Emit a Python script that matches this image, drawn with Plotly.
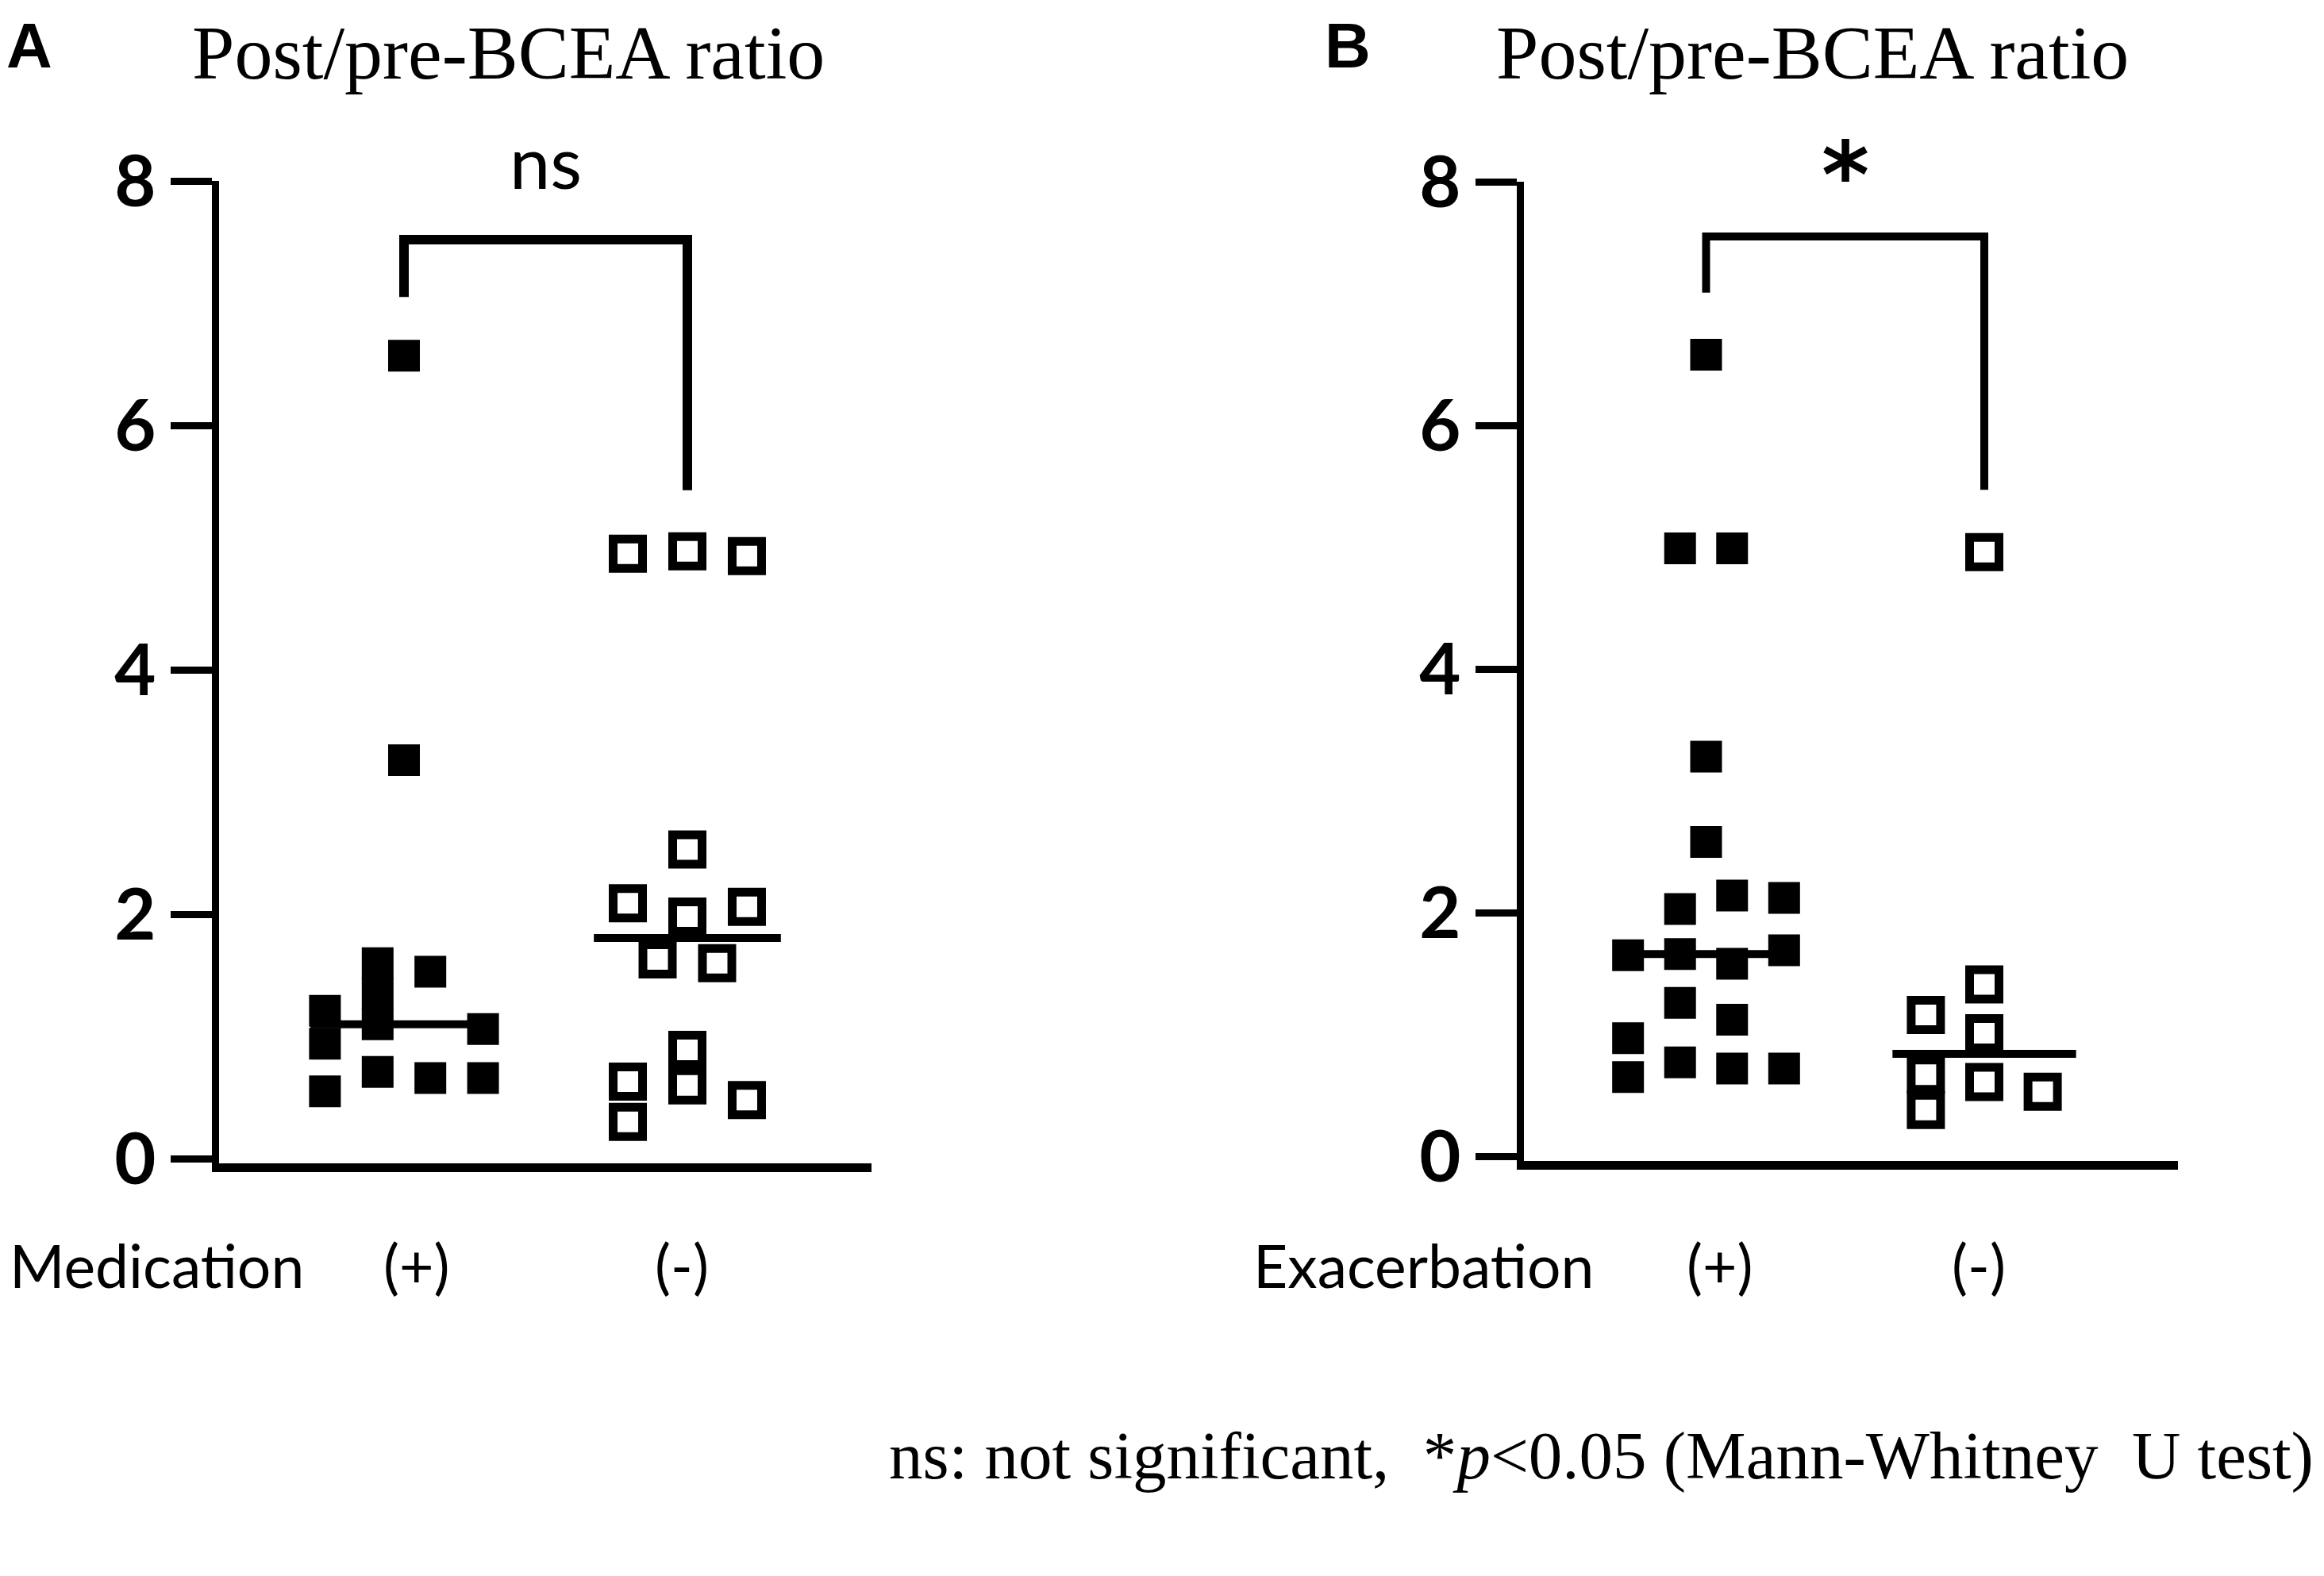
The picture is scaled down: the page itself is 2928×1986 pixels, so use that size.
import numpy as np
import plotly.graph_objects as go

# ---- data ---------------------------------------------------------------
# Panel A: Medication (+) filled / (-) open
med_pos = [6.57, 3.26, 1.21, 0.94, 0.55, 1.60, 1.35, 1.10, 0.71, 1.53, 0.66, 1.06, 0.66]
med_neg = [4.95, 4.97, 4.93, 2.53, 2.09, 1.98, 2.06, 1.63, 1.60, 0.63, 0.30, 0.89, 0.60, 0.48]
# Panel B: Exacerbation (+) filled / (-) open
exa_pos = [6.58, 4.99, 4.99, 3.28, 2.58, 2.03, 2.14, 2.12, 1.65, 1.66, 1.58, 1.69,
           1.26, 1.12, 0.97, 0.65, 0.77, 0.72, 0.72]
exa_neg = [4.96, 1.41, 1.16, 1.01, 0.67, 0.38, 0.61, 0.53]

groups = ["(+)", "(-)"]
y_ticks = [0, 2, 4, 6, 8]

# significance brackets: left leg bottom, top, right leg bottom
bracket_a = [7.05, 7.52, 5.47]
bracket_b = [7.09, 7.55, 5.47]
sig_a = "ns"
sig_b = "*"

# column slots of the scatter (layout of the dot columns)
med_pos_slot = [0, 0, -1.5, -1.5, -1.5, -0.5, -0.5, -0.5, -0.5, 0.5, 0.5, 1.5, 1.5]
med_neg_slot = [-1, 0, 1, 0, -1, 0, 1, -0.5, 0.5, -1, -1, 0, 0, 1]
exa_pos_slot = [0, -0.5, 0.5, 0, 0, -0.5, 0.5, 1.5, -1.5, -0.5, 0.5, 1.5,
                -0.5, 0.5, -1.5, -1.5, -0.5, 0.5, 1.5]
exa_neg_slot = [0, 0, -1, 0, -1, -1, 0, 1]

W, H = 2928, 1986
OFF = 8  # default page body margin shifts the figure by this much


def px(x):
    return (x - OFF) / W


def py(y):
    return 1 - (y - OFF) / H


fig = go.Figure()

FILLED = dict(symbol="square", size=40, color="black", line=dict(width=0))
OPEN = dict(symbol="square-open", size=37, color="black", line=dict(width=11, color="black"))


def add_panel(n, pos, pos_slot, neg, neg_slot, steps, bracket, bw):
    xa = "x" if n == 1 else "x2"
    ya = "y" if n == 1 else "y2"
    for g, vals, slots, step, mk in [(1, pos, pos_slot, steps[0], FILLED),
                                     (2, neg, neg_slot, steps[1], OPEN)]:
        xs = [g + s * step for s in slots]
        fig.add_trace(go.Scatter(x=xs, y=vals, mode="markers", marker=mk,
                                 xaxis=xa, yaxis=ya, cliponaxis=False))
        med = float(np.median(vals))
        fig.add_trace(go.Scatter(x=[g - 0.33, g + 0.33], y=[med, med], mode="lines",
                                 line=dict(color="black", width=10),
                                 xaxis=xa, yaxis=ya))
    fig.add_trace(go.Scatter(x=[1, 1, 2, 2], y=[bracket[0], bracket[1], bracket[1], bracket[2]],
                             mode="lines", line=dict(color="black", width=bw),
                             xaxis=xa, yaxis=ya))


add_panel(1, med_pos, med_pos_slot, med_neg, med_neg_slot, (0.186, 0.21), bracket_a, 12)
add_panel(2, exa_pos, exa_pos_slot, exa_neg, exa_neg_slot, (0.187, 0.21), bracket_b, 10)


def axis_setup(axis_px, right_px, g1_px, g2_px, y0_px, y8_px):
    ylw, xlw = 9, 11
    left = axis_px + ylw / 2
    unit = g2_px - g1_px
    xr = [1 - (g1_px - left) / unit, 2 + (right_px - g2_px) / unit]
    bottom = y0_px - xlw / 2
    yunit = (y0_px - y8_px) / 8
    yr = [-(xlw / 2) / yunit, 8]
    xax = dict(domain=[px(left), px(right_px)], range=xr, showline=True, linewidth=xlw,
               linecolor="black", showgrid=False, zeroline=False, ticks="",
               showticklabels=False, fixedrange=True, automargin=False)
    yax = dict(domain=[py(bottom), py(y8_px)], range=yr, showline=True, linewidth=ylw,
               linecolor="black", showgrid=False, zeroline=False, ticks="outside",
               ticklen=52, tickwidth=9, tickcolor="black", tickvals=y_ticks,
               automargin=False,
               tickfont=dict(family="Lato", size=90, color="black", weight=700))
    return xax, yax


xa1, ya1 = axis_setup(271, 1098, 509, 866, 1471, 228)
xa2, ya2 = axis_setup(1915, 2744, 2149.5, 2500, 1468, 229)
ya1["anchor"] = "x"
xa1["anchor"] = "y"
ya2["anchor"] = "x2"
xa2["anchor"] = "y2"

fig.update_layout(
    width=W, height=H, autosize=False,
    margin=dict(l=0, r=0, t=0, b=0, pad=0, autoexpand=False),
    paper_bgcolor="white", plot_bgcolor="white",
    showlegend=False,
    xaxis=xa1, yaxis=ya1, xaxis2=xa2, yaxis2=ya2,
)

SERIF = "Liberation Serif"
SANS = "Lato"
ann = []
# panel letters
ann.append(dict(text="<b>A</b>", x=px(6), y=1 - 3 / H, xanchor="left", yanchor="top",
                font=dict(family="Liberation Sans", size=80, color="black")))
ann.append(dict(text="<b>B</b>", x=px(1667), y=1 - 3 / H, xanchor="left", yanchor="top",
                font=dict(family="Liberation Sans", size=80, color="black")))
# titles
for cx in (640, 2283):
    ann.append(dict(text="Post/pre-BCEA ratio", x=px(cx), y=py(67), xanchor="center",
                    yanchor="middle", font=dict(family=SERIF, size=96, color="black")))
# significance labels
ann.append(dict(text=sig_a, x=1.5, y=py(202), xref="x", yref="paper", xanchor="center",
                yanchor="middle", font=dict(family=SANS, size=92, color="black")))
ann.append(dict(text=sig_b, x=1.5, y=py(221), xref="x2", yref="paper", xanchor="center",
                yanchor="middle",
                font=dict(family="DejaVu Sans", size=115, color="black", weight=700)))
# category labels
ann.append(dict(text="Medication", x=px(10), y=py(1594), xanchor="left", yanchor="middle",
                font=dict(family=SANS, size=75, color="black")))
ann.append(dict(text="Exacerbation", x=px(1577), y=py(1594), xanchor="left", yanchor="middle",
                font=dict(family=SANS, size=75, color="black")))
for lbl, cx in zip(groups + groups, (525, 859, 2167, 2493)):
    ann.append(dict(text=lbl, x=px(cx), y=py(1594), xanchor="center", yanchor="middle",
                    font=dict(family=SANS, size=75, color="black")))
# footnote
ann.append(dict(text="ns: not significant,  *<i>p</i>&lt;0.05 (Mann-Whitney  U test)",
                x=px(2917), y=py(1834), xanchor="right", yanchor="middle",
                font=dict(family=SERIF, size=85, color="black")))

for a in ann:
    a.setdefault("xref", "paper")
    a.setdefault("yref", "paper")
    a["showarrow"] = False
fig.update_layout(annotations=ann)

fig.write_html("out.html")
